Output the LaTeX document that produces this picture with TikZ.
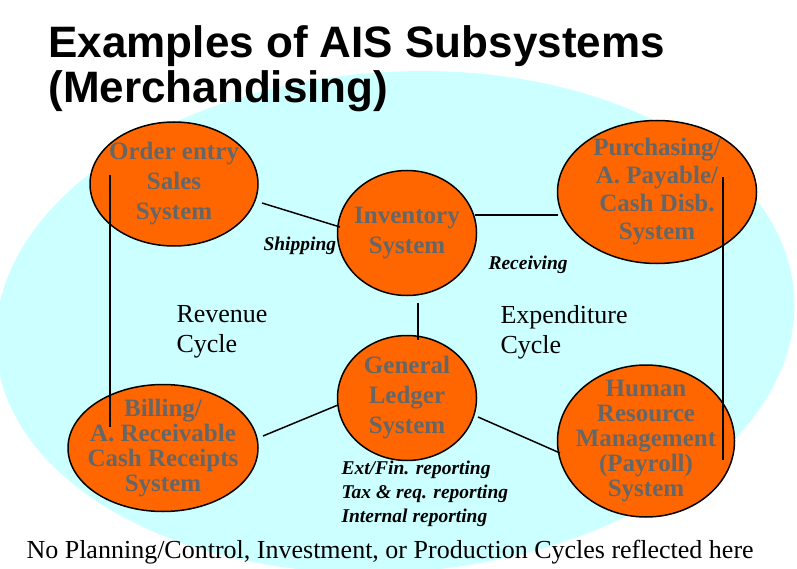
\documentclass[tikz,border=0pt]{standalone}
\usepackage{fontspec}
\setmainfont{Liberation Serif}
\newfontfamily\titlefont{Liberation Sans}
\usetikzlibrary{shapes.geometric, positioning}
\definecolor{aisorange}{HTML}{FF6600}
\definecolor{aiscyan}{HTML}{CCFFFF}
\definecolor{aisgray}{HTML}{666666}
\tikzset{x=1pt, y=-1pt, % pixel-like units, y grows downwards
	system/.style={ellipse, draw=black, line width=1.5pt, fill=aisorange, inner sep=0pt}, % every subsystem
	systext/.style={text=aisgray, align=center, font=\bfseries\fontsize{25}{30}\selectfont}, % its name
	tightsys/.style={font=\bfseries\fontsize{25}{25}\selectfont},
	flow/.style={font=\bfseries\itshape\fontsize{19.5}{24}\selectfont, align=left, anchor=west}, % what goes between
	cyclelabel/.style={font=\fontsize{26}{30}\selectfont, align=left, anchor=west},
	link/.style={line width=1.5pt},
}

\begin{document}
\begin{tikzpicture}
	\useasboundingbox (0,0) rectangle (797,569);
	\clip (0,0) rectangle (797,569);
	% the whole AIS as one big cyan blob
	\fill[aiscyan, rotate around={4:(395,322)}] (395,322) ellipse [x radius=400, y radius=250];
	\node[anchor=west, align=left, font=\titlefont\bfseries\fontsize{44}{45}\selectfont] (Title) at (45,69) {Examples of AIS Subsystems\\(Merchandising)};
	
	% The subsystems
	\node[system, minimum width=168, minimum height=124, label={[systext]center:{Order entry\\Sales\\System}}] (OrderEntry) at (174,184) {};
	\node[system, minimum width=139, minimum height=125, label={[systext]center:{Inventory\\System}}] (Inventory) at (407,233) {};
	\node[system, minimum width=199, minimum height=143, label={[systext, font=\bfseries\fontsize{25}{28}\selectfont]center:{Purchasing/\\A. Payable/\\Cash Disb.\\System}}] (Purchasing) at (657,192) {};
	\node[system, minimum width=190, minimum height=127, label={[systext, tightsys]center:{Billing/\\A. Receivable\\Cash Receipts\\System}}] (Billing) at (163,448) {};
	\node[system, minimum width=139, minimum height=125, label={[systext]center:{General\\Ledger\\System}}] (Ledger) at (407,398) {};
	\node[system, minimum width=177, minimum height=152, label={[systext, tightsys]center:{Human\\Resource\\Management\\(Payroll)\\System}}] (Payroll) at (646,441) {};
	
	%% links, drawn over the ellipses
	\draw[link] ([shift={(88,19)}]OrderEntry.center) -- ([shift={(-67,-6)}]Inventory.center);
	\draw[link] ([shift={(68,-18)}]Inventory.center) -- ([shift={(-99,23)}]Purchasing.center);
	\draw[link] ([shift={(11,70)}]Inventory.center) -- ([shift={(11,-58)}]Ledger.center);
	\draw[link] ([shift={(-64,-9)}]OrderEntry.center) -- ([shift={(-53,-21)}]Billing.center);
	\draw[link] ([shift={(66,-15)}]Purchasing.center) -- ([shift={(77,19)}]Payroll.center);
	\draw[link] ([shift={(100,-12)}]Billing.center) -- ([shift={(-69,7)}]Ledger.center);
	\draw[link] ([shift={(71,19)}]Ledger.center) -- ([shift={(-86,12)}]Payroll.center);
	
	%% labels
	\node[flow] (Shipping) at (260,246) {Shipping};
	\node[flow] (Receiving) at (485,265) {Receiving};
	\node[flow] (Reporting) at (338,494) {Ext/Fin. reporting\\Tax \& req. reporting\\Internal reporting};
	\node[cyclelabel] (Revenue) at (173,332) {Revenue\\Cycle};
	\node[cyclelabel] (Expenditure) at (497,332) {Expenditure\\Cycle};
	\node[anchor=base west, font=\fontsize{26}{30}\selectfont] (Note) at (23,558) {No Planning/Control, Investment, or Production Cycles reflected here};
\end{tikzpicture}
\end{document}
